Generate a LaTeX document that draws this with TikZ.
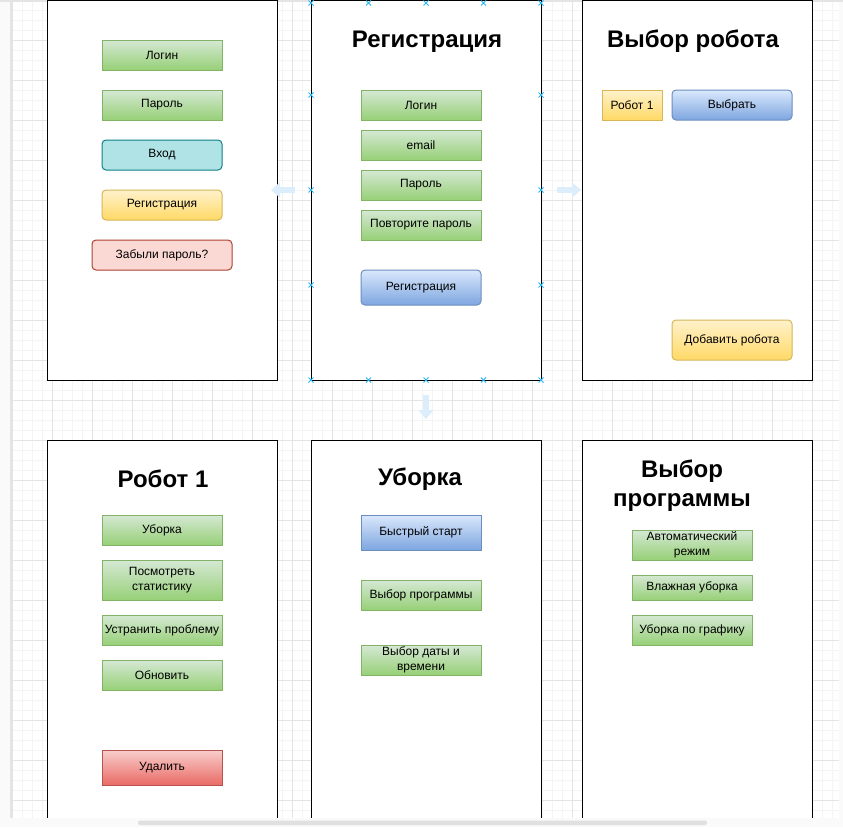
\documentclass[tikz,border=0pt]{standalone}
\usepackage{fontspec}
\setmainfont{Liberation Sans}
\usepackage{xcolor}
\usetikzlibrary{arrows.meta}

\definecolor{greenTop}{HTML}{D5E8D4}
\definecolor{greenBot}{HTML}{97D077}
\definecolor{greenLine}{HTML}{82B366}
\definecolor{yellowTop}{HTML}{FFF2CC}
\definecolor{yellowBot}{HTML}{FFD966}
\definecolor{yellowLine}{HTML}{D6B656}
\definecolor{blueTop}{HTML}{DAE8FC}
\definecolor{blueBot}{HTML}{7EA6E0}
\definecolor{blueLine}{HTML}{6C8EBF}
\definecolor{redTop}{HTML}{F8CECC}
\definecolor{redBot}{HTML}{EA6B66}
\definecolor{redLine}{HTML}{B85450}
\definecolor{tealFill}{HTML}{B0E3E6}
\definecolor{tealLine}{HTML}{0E8088}
\definecolor{pinkFill}{HTML}{FAD9D5}
\definecolor{pinkLine}{HTML}{AE4132}
\definecolor{gridMinor}{HTML}{F4F4F4}
\definecolor{gridMajor}{HTML}{E4E4E4}
\definecolor{hoverBlue}{HTML}{DCEEFB}
\definecolor{handleBlue}{HTML}{29B6F2}

\tikzset{
    screen/.style={draw=black, line width=1pt, fill=white, minimum width=230pt, minimum height=380pt, inner sep=0pt},
    heading/.style={font=\fontsize{24}{29}\selectfont\bfseries, align=center, inner sep=0pt},
    btn/.style={line width=1pt, minimum width=120pt, minimum height=30pt, inner sep=0pt,
        font=\fontsize{12}{15}\selectfont, align=center},
    greenbtn/.style={btn, draw=greenLine, top color=greenTop, bottom color=greenBot},
    yellowbtn/.style={btn, draw=yellowLine, top color=yellowTop, bottom color=yellowBot},
    bluebtn/.style={btn, draw=blueLine, top color=blueTop, bottom color=blueBot},
    redbtn/.style={btn, draw=redLine, top color=redTop, bottom color=redBot},
    round/.style={rounded corners=4pt},
    minorgrid/.style={gridMinor, line width=0.6pt},
    majorgrid/.style={gridMajor, line width=0.8pt},
    hover/.style={hoverBlue, line width=6pt, -{Triangle[length=9pt, width=15pt]}},
    handle/.style={handleBlue, line width=1pt}
}

\begin{document}
\begin{tikzpicture}[x=1pt, y=-1pt]
    \useasboundingbox (0,0) rectangle (843,827);
    \fill[white!98!black] (0,0) rectangle (843,827);
    \fill[white] (12,2) rectangle (839,818);
    % grid of the canvas
    \foreach \x in {12,22,...,832} \draw[minorgrid] (\x,2) -- (\x,818);
    \foreach \y in {10,20,...,810} \draw[minorgrid] (12,\y) -- (839,\y);
    \foreach \x in {12,52,...,812} \draw[majorgrid] (\x,2) -- (\x,818);
    \foreach \y in {40,80,...,800} \draw[majorgrid] (12,\y) -- (839,\y);
    \draw[gridMajor, line width=1.5pt] (11,0) -- (11,818);
    \draw[gridMajor, line width=1.5pt] (0,1) -- (843,1);

    % screens
    \node[screen] (scrLogin) at (162,190) {};
    \node[screen] (scrReg) at (426,190) {};
    \node[screen] (scrChoose) at (697,190) {};
    \node[screen] (scrRobot) at (162,630) {};
    \node[screen] (scrClean) at (426,630) {};
    \node[screen] (scrProg) at (697,630) {};

    % hover arrows
    \coordinate (hl1) at (295,190); \coordinate (hl2) at (271,190);
    \coordinate (hr1) at (557,190); \coordinate (hr2) at (581,190);
    \coordinate (hd1) at (426,395); \coordinate (hd2) at (426,419);
    \draw[hover] (hl1) -- (hl2);
    \draw[hover] (hr1) -- (hr2);
    \draw[hover] (hd1) -- (hd2);

    % login
    \node[greenbtn] (loginName) at (162,55) {Логин};
    \node[greenbtn] (loginPass) at (162,105) {Пароль};
    \node[btn, round, draw=tealLine, fill=tealFill] (loginEnter) at (162,155) {Вход};
    \node[yellowbtn, round] (loginReg) at (162,205) {Регистрация};
    \node[btn, round, draw=pinkLine, fill=pinkFill, minimum width=140pt] (loginForgot) at (162,255) {Забыли пароль?};

    % registration
    \node[heading] (regTitle) at (427,41.5) {Регистрация};
    \node[greenbtn] (regName) at (421,105) {Логин};
    \node[greenbtn] (regMail) at (421,145) {email};
    \node[greenbtn] (regPass) at (421,185) {Пароль};
    \node[greenbtn] (regRepeat) at (421,225) {Повторите пароль};
    \node[bluebtn, round, minimum height=35pt] (regDo) at (421,287.5) {Регистрация};

    % choose robot
    \node[heading] (chooseTitle) at (693,41.5) {Выбор робота};
    \node[yellowbtn, minimum width=60pt] (chooseRobot) at (632,105) {Робот 1};
    \node[bluebtn, round] (chooseDo) at (732,105) {Выбрать};
    \node[yellowbtn, round, minimum height=40pt] (chooseAdd) at (732,340) {Добавить робота};

    % robot 1
    \node[heading] (robotTitle) at (163,479) {Робот 1};
    \node[greenbtn] (robotClean) at (162,530) {Уборка};
    \node[greenbtn, minimum height=40pt] (robotStats) at (162,580) {Посмотреть\\статистику};
    \node[greenbtn] (robotFix) at (162,630) {Устранить проблему};
    \node[greenbtn] (robotUpdate) at (162,675) {Обновить};
    \node[redbtn, minimum height=35pt] (robotDelete) at (162,767.5) {Удалить};

    % cleaning
    \node[heading] (cleanTitle) at (420,479) {Уборка};
    \node[bluebtn, minimum height=35pt] (cleanQuick) at (421,532.5) {Быстрый старт};
    \node[greenbtn] (cleanProg) at (421,595) {Выбор программы};
    \node[greenbtn] (cleanDate) at (421,660) {Выбор даты и\\времени};

    % programme
    \node[heading] (progTitle) at (682,486) {Выбор\\программы};
    \node[greenbtn] (progAuto) at (692,545) {Автоматический\\режим};
    \node[greenbtn, minimum height=25pt] (progWet) at (692,587.5) {Влажная уборка};
    \node[greenbtn] (progPlan) at (692,630) {Уборка по графику};

    % selection handles of the registration screen
    \foreach \hx in {311,368.5,426,483.5,541} {
        \draw[handle] (\hx-2.5,377.5) -- (\hx+2.5,382.5) (\hx-2.5,382.5) -- (\hx+2.5,377.5);
        \draw[handle] (\hx-2.5,0.5) -- (\hx+2.5,5.5) (\hx-2.5,5.5) -- (\hx+2.5,0.5);
    }
    \foreach \hy in {95,190,285} {
        \draw[handle] (308.5,\hy-2.5) -- (313.5,\hy+2.5) (308.5,\hy+2.5) -- (313.5,\hy-2.5);
        \draw[handle] (538.5,\hy-2.5) -- (543.5,\hy+2.5) (538.5,\hy+2.5) -- (543.5,\hy-2.5);
    }

    % scroll bar
    \fill[white!98!black] (0,818) rectangle (843,827);
    \fill[white!88!black, rounded corners=2pt] (138,820.5) rectangle (707,825);
\end{tikzpicture}
\end{document}
